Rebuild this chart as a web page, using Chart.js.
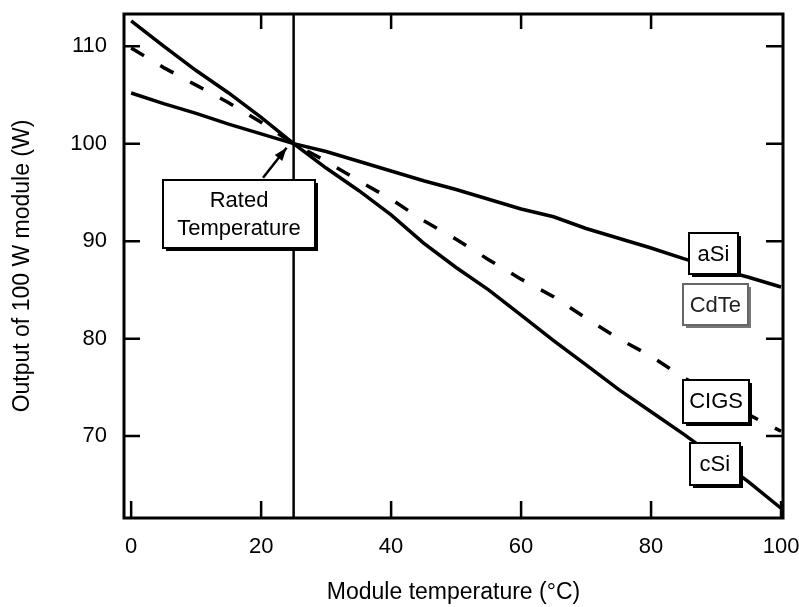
<!DOCTYPE html>
<html>
<head>
<meta charset="utf-8">
<script src="https://cdn.jsdelivr.net/npm/chart.js@4/dist/chart.umd.min.js"></script>
<style>
  html, body { margin: 0; padding: 0; background: #fff; }
  #wrap { width: 799px; height: 607px; }
</style>
</head>
<body>
<div id="wrap"><canvas id="tempChart" width="799" height="607"></canvas></div>
<script>
// module temperature (°C)
const temps = [0, 5, 10, 15, 20, 25, 30, 35, 40, 45, 50, 55, 60, 65, 70, 75, 80, 85, 90, 95, 100];
// output of a 100 W module (W)
const aSi  = [105.2, 104.1, 103.1, 102.0, 101.0, 100.0, 99.2, 98.2, 97.2, 96.2, 95.3, 94.3, 93.3, 92.5, 91.3, 90.3, 89.3, 88.2, 87.2, 86.3, 85.3];
const cigs = [109.8, 107.8, 106.0, 104.2, 102.2, 100.0, 98.2, 96.2, 94.3, 92.1, 90.2, 88.1, 86.1, 84.3, 82.1, 80.0, 78.2, 76.0, 74.2, 72.2, 70.5];
const cSi  = [112.6, 110.0, 107.5, 105.2, 102.7, 100.0, 97.5, 95.2, 92.7, 89.8, 87.3, 85.0, 82.4, 79.8, 77.3, 74.8, 72.5, 70.2, 67.8, 65.3, 62.6];

const xTicks = [0, 20, 40, 60, 80, 100];
const yTicks = [70, 80, 90, 100, 110];
const ratedTemp = 25;
const ratedOutput = 100;

const FONT = "'Liberation Sans', Arial, sans-serif";

function toPoints(vals) {
    return temps.map((t, i) => ({ x: t, y: vals[i] }));
}

function drawBox(ctx, cx, cy, w, h, lines, faded) {
    const x0 = Math.round(cx - w / 2), y0 = Math.round(cy - h / 2);
    ctx.fillStyle = faded ? '#777' : '#000';
    ctx.fillRect(x0 + 3, y0 + 3, w, h);
    ctx.fillStyle = '#fff';
    ctx.fillRect(x0, y0, w, h);
    ctx.strokeStyle = faded ? '#666' : '#000';
    ctx.lineWidth = 2;
    ctx.strokeRect(x0, y0, w, h);
    ctx.fillStyle = faded ? '#222' : '#000';
    ctx.font = `22px ${FONT}`;
    ctx.textAlign = 'center';
    ctx.textBaseline = 'middle';
    const lh = 28;
    lines.forEach((s, i) => {
        ctx.fillText(s, cx, cy + (i - (lines.length - 1) / 2) * lh + 1);
    });
}

const framePlugin = {
    id: 'frame',
    beforeDatasetsDraw(chart) {
        const { ctx, chartArea: a, scales: { x } } = chart;
        const px = x.getPixelForValue(ratedTemp);
        ctx.save();
        ctx.strokeStyle = '#000';
        ctx.lineWidth = 2.5;
        ctx.beginPath();
        ctx.moveTo(px, a.top);
        ctx.lineTo(px, a.bottom);
        ctx.stroke();
        ctx.restore();
    },
    afterDatasetsDraw(chart) {
        const { ctx, chartArea: a, scales: { x, y } } = chart;
        ctx.save();
        ctx.strokeStyle = '#000';

        // inward tick marks on all four sides
        ctx.lineWidth = 2.5;
        ctx.beginPath();
        xTicks.forEach(v => {
            const px = x.getPixelForValue(v);
            ctx.moveTo(px, a.bottom); ctx.lineTo(px, a.bottom - 17);
            if (v > 0 && v < 100) { ctx.moveTo(px, a.top); ctx.lineTo(px, a.top + 15); }
        });
        yTicks.forEach(v => {
            const py = y.getPixelForValue(v);
            ctx.moveTo(a.left, py); ctx.lineTo(a.left + 16, py);
            ctx.moveTo(a.right, py); ctx.lineTo(a.right - 17, py);
        });
        ctx.stroke();

        // frame
        ctx.lineWidth = 3;
        ctx.strokeRect(a.left, a.top, a.right - a.left, a.bottom - a.top);

        // series labels
        drawBox(ctx, x.getPixelForValue(89.6), y.getPixelForValue(88.7), 49, 41, ['aSi']);
        drawBox(ctx, x.getPixelForValue(89.9), y.getPixelForValue(83.5), 65, 41, ['CdTe'], true);
        drawBox(ctx, x.getPixelForValue(90.0), y.getPixelForValue(73.6), 66, 43, ['CIGS']);
        drawBox(ctx, x.getPixelForValue(89.8), y.getPixelForValue(67.1), 50, 42, ['cSi']);

        // rated temperature callout with arrow
        const bx = x.getPixelForValue(16.6), by = y.getPixelForValue(92.8);
        const tipX = x.getPixelForValue(ratedTemp) - 7, tipY = y.getPixelForValue(ratedOutput) + 4;
        const tailX = bx + 24, tailY = by - 36;
        ctx.lineWidth = 2.5;
        ctx.beginPath();
        ctx.moveTo(tailX, tailY);
        ctx.lineTo(tipX, tipY);
        ctx.stroke();
        const ang = Math.atan2(tipY - tailY, tipX - tailX);
        ctx.fillStyle = '#000';
        ctx.beginPath();
        ctx.moveTo(tipX, tipY);
        ctx.lineTo(tipX - 14 * Math.cos(ang - 0.35), tipY - 14 * Math.sin(ang - 0.35));
        ctx.lineTo(tipX - 14 * Math.cos(ang + 0.35), tipY - 14 * Math.sin(ang + 0.35));
        ctx.closePath();
        ctx.fill();
        drawBox(ctx, bx, by, 152, 68, ['Rated', 'Temperature']);

        ctx.restore();
    }
};

const ctx = document.getElementById('tempChart').getContext('2d');
const chart = new Chart(ctx, {
    type: 'line',
    data: {
        datasets: [
            { label: 'aSi', data: toPoints(aSi), borderColor: '#000', borderWidth: 3.5, pointRadius: 0, tension: 0 },
            { label: 'CIGS', data: toPoints(cigs), borderColor: '#000', borderWidth: 3.5, borderDash: [15, 19], pointRadius: 0, tension: 0 },
            { label: 'cSi', data: toPoints(cSi), borderColor: '#000', borderWidth: 3.5, pointRadius: 0, tension: 0 }
        ]
    },
    options: {
        responsive: false,
        animation: false,
        devicePixelRatio: 1,
        layout: { padding: { top: 14, right: 16, left: 0, bottom: 0 } },
        plugins: {
            legend: { display: false },
            tooltip: { enabled: false }
        },
        scales: {
            x: {
                type: 'linear',
                min: -1.1,
                max: 100.3,
                grid: { display: false, drawTicks: false },
                border: { display: false },
                afterBuildTicks: scale => { scale.ticks = xTicks.map(v => ({ value: v })); },
                afterFit: scale => {
                    scale.height = 89;
                    scale.paddingLeft = 0;
                    scale.paddingRight = 0;
                },
                ticks: { color: '#000', font: { family: FONT, size: 22 }, padding: 16, maxRotation: 0 },
                title: { display: true, text: 'Module temperature (°C)', color: '#000', font: { family: FONT, size: 23 }, padding: { top: 0, bottom: 1 } }
            },
            y: {
                type: 'linear',
                min: 61.6,
                max: 113.3,
                grid: { display: false, drawTicks: false },
                border: { display: false },
                afterBuildTicks: scale => { scale.ticks = yTicks.map(v => ({ value: v })); },
                afterFit: scale => {
                    scale.width = 124;
                    scale.paddingTop = 0;
                    scale.paddingBottom = 0;
                },
                ticks: { color: '#000', font: { family: FONT, size: 22 }, padding: 17 },
                title: { display: true, text: 'Output of 100 W module (W)', color: '#000', font: { family: FONT, size: 23 }, padding: { top: 9, bottom: 0 } }
            }
        }
    },
    plugins: [framePlugin]
});
</script>
</body>
</html>
